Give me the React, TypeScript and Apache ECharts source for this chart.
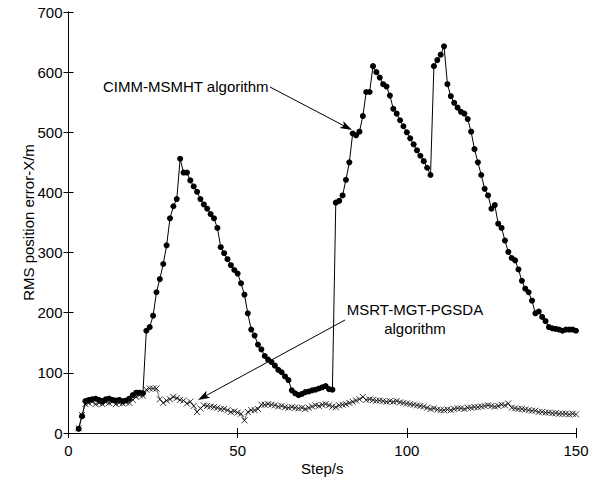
import React, { useEffect, useRef } from "react";
import * as echarts from "echarts";

const steps: number[] = [];
for (let s = 3; s <= 150; s++) steps.push(s);

const cimmValues = [
  7, 28, 53, 55, 56, 57, 55, 53, 56, 57, 55, 54, 55, 53, 54, 57, 63, 67, 67, 66,
  170, 176, 195, 234, 256, 281, 312, 357, 377, 389, 456, 433, 433, 420, 410, 401, 389, 380, 373, 364,
  357, 341, 309, 299, 289, 279, 271, 265, 249, 230, 199, 172, 162, 147, 139, 128, 122, 118, 112, 105,
  101, 94, 88, 71, 66, 63, 65, 68, 69, 71, 72, 74, 76, 78, 73, 72, 383, 386, 395, 421,
  450, 498, 495, 501, 527, 567, 567, 610, 600, 591, 580, 576, 561, 539, 531, 520, 510, 500, 490, 480,
  470, 461, 452, 441, 429, 610, 620, 629, 643, 580, 560, 549, 541, 534, 531, 522, 501, 472, 450, 429,
  406, 395, 373, 379, 348, 341, 320, 301, 291, 287, 272, 253, 240, 234, 220, 199, 202, 193, 186, 176,
  174, 173, 172, 170, 172, 172, 172, 170,
];

const msrtValues = [
  8, 30, 48, 50, 52, 48, 50, 48, 51, 50, 52, 48, 50, 49, 51, 50, 55, 60, 63, 62,
  72, 74, 74, 74, 56, 50, 54, 56, 60, 58, 55, 54, 49, 52, 45, 35, 41, 46, 45, 44,
  43, 42, 40, 40, 38, 35, 36, 34, 32, 21, 35, 38, 38, 40, 47, 47, 48, 47, 46, 44,
  45, 43, 42, 43, 42, 41, 42, 40, 42, 44, 46, 45, 47, 48, 46, 44, 43, 46, 47, 48,
  50, 52, 54, 56, 60, 55, 56, 55, 54, 54, 53, 52, 53, 52, 53, 51, 50, 49, 48, 47,
  46, 45, 44, 42, 40, 41, 39, 38, 38, 39, 38, 40, 41, 41, 40, 42, 42, 43, 43, 44,
  45, 46, 45, 44, 45, 47, 46, 49, 42, 41, 40, 40, 39, 38, 37, 37, 35, 35, 34, 34,
  33, 33, 32, 32, 32, 31, 32, 31,
];

const xTicks = [0, 50, 100, 150];
const yTicks = [0, 100, 200, 300, 400, 500, 600, 700];

const FONT = "'Liberation Sans', Arial, sans-serif";
const FS = 15;

function arrow(x1: number, y1: number, x2: number, y2: number): any[] {
  const dx = x2 - x1;
  const dy = y2 - y1;
  const len = Math.sqrt(dx * dx + dy * dy);
  const ux = dx / len;
  const uy = dy / len;
  const nx = -uy;
  const ny = ux;
  const L = 12;
  const W = 4;
  const bx = x2 - L * ux;
  const by = y2 - L * uy;
  const notchX = x2 - 9 * ux;
  const notchY = y2 - 9 * uy;
  return [
    {
      type: "line",
      shape: { x1, y1, x2: notchX, y2: notchY },
      style: { stroke: "#000", lineWidth: 1 },
      silent: true,
    },
    {
      type: "polygon",
      shape: {
        points: [
          [x2, y2],
          [bx + W * nx, by + W * ny],
          [notchX, notchY],
          [bx - W * nx, by - W * ny],
        ],
      },
      style: { fill: "#000" },
      silent: true,
    },
  ];
}

export default function App() {
  const ref = useRef<HTMLDivElement>(null);
  useEffect(() => {
    if (!ref.current) return;
    const chart = echarts.init(ref.current, undefined, { renderer: "svg" });
    const cimm = steps.map((s, i) => [s, cimmValues[i]]);
    const msrt = steps.map((s, i) => [s, msrtValues[i]]);
    const axisCommon = {
      axisLine: { show: true, lineStyle: { color: "#000", width: 1 } },
      axisTick: { show: true, inside: true, length: 5, lineStyle: { color: "#000" } },
      splitLine: { show: false },
    };
    chart.setOption({
      animation: false,
      backgroundColor: "#fff",
      grid: { left: 68.5, right: 24, top: 12, bottom: 43, containLabel: false },
      xAxis: [
        {
          type: "value",
          min: xTicks[0],
          max: xTicks[xTicks.length - 1],
          interval: 50,
          name: "Step/s",
          nameLocation: "middle",
          nameGap: 28,
          nameMoveOverlap: false,
          nameTextStyle: { color: "#000", fontSize: FS, fontFamily: FONT },
          axisLabel: { color: "#000", fontSize: FS, fontFamily: FONT, margin: 10 },
          ...axisCommon,
        },
        {
          type: "value",
          position: "top",
          min: xTicks[0],
          max: xTicks[xTicks.length - 1],
          interval: 50,
          axisLabel: { show: false },
          ...axisCommon,
        },
      ],
      yAxis: [
        {
          type: "value",
          min: yTicks[0],
          max: yTicks[yTicks.length - 1],
          interval: 100,
          name: "RMS position error-X/m",
          nameLocation: "middle",
          nameGap: 33,
          nameMoveOverlap: false,
          nameTextStyle: { color: "#000", fontSize: FS, fontFamily: FONT },
          axisLabel: { color: "#000", fontSize: FS, fontFamily: FONT, margin: 6 },
          ...axisCommon,
        },
        {
          type: "value",
          position: "right",
          min: yTicks[0],
          max: yTicks[yTicks.length - 1],
          interval: 100,
          axisLabel: { show: false },
          ...axisCommon,
        },
      ],
      series: [
        {
          name: "CIMM-MSMHT algorithm",
          type: "line",
          data: cimm,
          symbol: "circle",
          symbolSize: 6,
          showAllSymbol: true,
          lineStyle: { color: "#000", width: 1 },
          itemStyle: { color: "#000", borderWidth: 0 },
        },
        {
          name: "MSRT-MGT-PGSDA algorithm",
          type: "line",
          data: msrt,
          symbol: "path://M0,0L10,10M10,0L0,10",
          symbolSize: 6,
          showAllSymbol: true,
          lineStyle: { color: "#000", width: 0.6 },
          itemStyle: { color: "none", borderColor: "#000", borderWidth: 0.8 },
        },
      ],
      graphic: [
        {
          type: "text",
          x: 103,
          y: 79,
          style: { text: "CIMM-MSMHT algorithm", fill: "#000", font: `${FS}px ${FONT}` },
          silent: true,
        },
        {
          type: "text",
          x: 415,
          y: 300,
          style: {
            text: "MSRT-MGT-PGSDA\nalgorithm",
            fill: "#000",
            font: `${FS}px ${FONT}`,
            align: "center",
            lineHeight: 19,
          },
          silent: true,
        },
        ...arrow(270, 87, 352, 130),
        ...arrow(345, 320, 198, 400),
      ],
    });
    return () => chart.dispose();
  }, []);
  return (
    <div
      ref={ref}
      style={{ position: "fixed", left: 0, top: 0, width: 600, height: 481, background: "#fff" }}
    />
  );
}
